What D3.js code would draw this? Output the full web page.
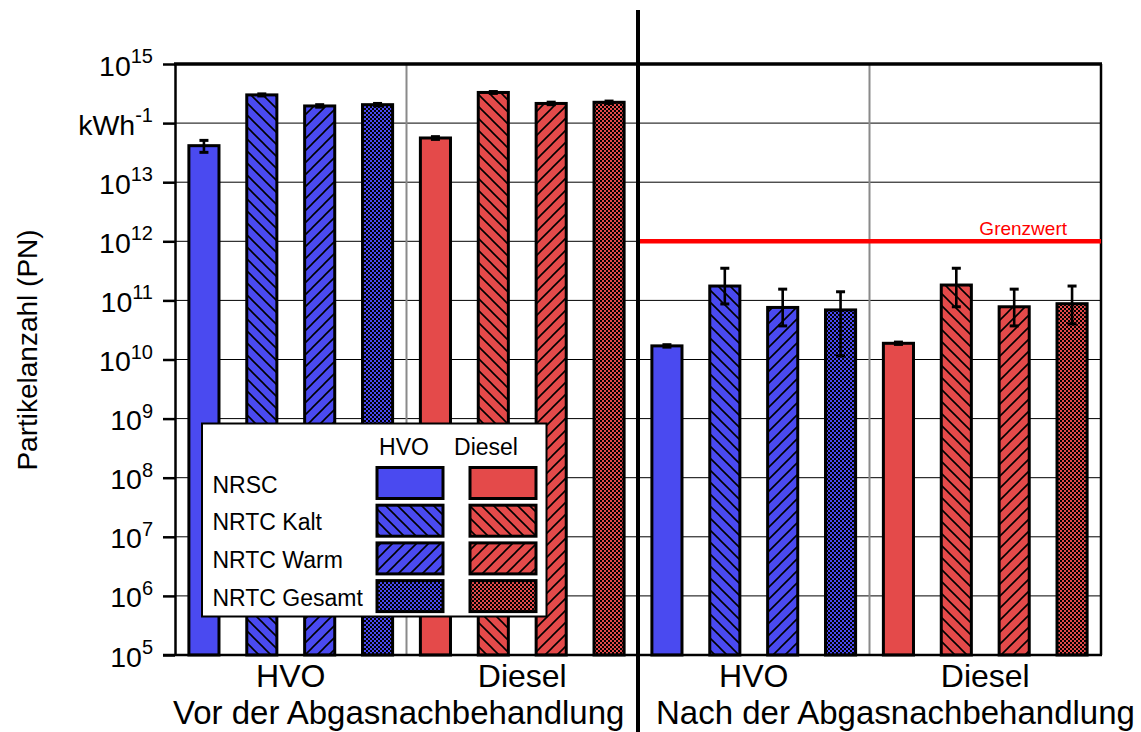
<!DOCTYPE html>
<html>
<head>
<meta charset="utf-8">
<script src="https://cdn.jsdelivr.net/npm/d3@7"></script>
<style>
  body { margin: 0; background: #fff; }
  svg { display: block; }
  text { font-family: Arial, "Liberation Sans", Helvetica, sans-serif; fill: #000; }
</style>
</head>
<body>
<svg id="chart" width="1141" height="732"></svg>
<script>
// ---- data -------------------------------------------------------------
const phases = ["Vor der Abgasnachbehandlung", "Nach der Abgasnachbehandlung"];
const fuels = ["HVO", "Diesel"];
const modes = ["NRSC", "NRTC Kalt", "NRTC Warm", "NRTC Gesamt"];

// particle number per kWh (mean, lower and upper error bound), order = modes
const vorHVO      = [4.15e13, 3.0e14, 1.95e14, 2.05e14];
const vorHVOLo    = [3.2e13, 2.88e14, 1.86e14, 1.96e14];
const vorHVOHi    = [5.1e13, 3.12e14, 2.05e14, 2.15e14];
const vorDiesel   = [5.6e13, 3.3e14, 2.15e14, 2.25e14];
const vorDieselLo = [5.3e13, 3.18e14, 2.05e14, 2.15e14];
const vorDieselHi = [5.9e13, 3.42e14, 2.26e14, 2.36e14];
const nachHVO      = [1.7e10, 1.75e11, 7.6e10, 6.9e10];
const nachHVOLo    = [1.62e10, 8.7e10, 3.7e10, 1.15e10];
const nachHVOHi    = [1.78e10, 3.5e11, 1.55e11, 1.4e11];
const nachDiesel   = [1.88e10, 1.82e11, 7.8e10, 8.8e10];
const nachDieselLo = [1.8e10, 7.8e10, 3.7e10, 4.0e10];
const nachDieselHi = [1.97e10, 3.5e11, 1.55e11, 1.75e11];

const limitValue = 1e12;
const limitLabel = "Grenzwert";

const yTicks    = [1e5, 1e6, 1e7, 1e8, 1e9, 1e10, 1e11, 1e12, 1e13, 1e14, 1e15];
const tickBase  = ["10", "10", "10", "10", "10", "10", "10", "10", "10", "kWh", "10"];
const tickExp   = ["5", "6", "7", "8", "9", "10", "11", "12", "13", "-1", "15"];
const yTitle = "Partikelanzahl (PN)";

const fuelColor = { HVO: "#4a4af0", Diesel: "#e44a4a" };

// ---- rows -------------------------------------------------------------
const seriesTable = [
  [phases[0], "HVO", vorHVO, vorHVOLo, vorHVOHi],
  [phases[0], "Diesel", vorDiesel, vorDieselLo, vorDieselHi],
  [phases[1], "HVO", nachHVO, nachHVOLo, nachHVOHi],
  [phases[1], "Diesel", nachDiesel, nachDieselLo, nachDieselHi]
];
const rows = [];
seriesTable.forEach(([phase, fuel, vals, lo, hi]) => {
  modes.forEach((mode, i) => rows.push({
    key: phase + "|" + fuel + "|" + mode, phase, fuel, mode, mi: i,
    value: vals[i], lo: lo[i], hi: hi[i]
  }));
});

// ---- layout -----------------------------------------------------------
const svg = d3.select("#chart");
const plot = { left: 175, right: 1101, top: 64, bottom: 655 };

const x = d3.scaleBand()
  .domain(rows.map(d => d.key))
  .range([plot.left, plot.right])
  .paddingInner(0.48)
  .paddingOuter(0.24);
const y = d3.scaleLog().domain([1e5, 1e15]).range([plot.bottom, plot.top]);
const step = x.step();

// ---- fill patterns ----------------------------------------------------
const defs = svg.append("defs");
function patternId(fuel, mi) { return "p-" + fuel + "-" + mi; }
fuels.forEach(fuel => {
  const c = fuelColor[fuel];
  // NRTC Kalt: "\" hatch
  let p = defs.append("pattern").attr("id", patternId(fuel, 1))
    .attr("patternUnits", "userSpaceOnUse").attr("width", 12).attr("height", 12);
  p.append("rect").attr("width", 12).attr("height", 12).attr("fill", c);
  p.append("path").attr("d", "M0,0L12,12M-3,9L3,15M9,-3L15,3")
    .attr("stroke", "#000").attr("stroke-width", 1.6);
  // NRTC Warm: "/" hatch
  p = defs.append("pattern").attr("id", patternId(fuel, 2))
    .attr("patternUnits", "userSpaceOnUse").attr("width", 12).attr("height", 12);
  p.append("rect").attr("width", 12).attr("height", 12).attr("fill", c);
  p.append("path").attr("d", "M0,12L12,0M-3,3L3,-3M9,15L15,9")
    .attr("stroke", "#000").attr("stroke-width", 1.6);
  // NRTC Gesamt: fine checker
  p = defs.append("pattern").attr("id", patternId(fuel, 3))
    .attr("patternUnits", "userSpaceOnUse").attr("width", 4).attr("height", 4);
  p.append("rect").attr("width", 4).attr("height", 4).attr("fill", c);
  p.append("rect").attr("width", 2).attr("height", 2).attr("fill", "#000");
  p.append("rect").attr("x", 2).attr("y", 2).attr("width", 2).attr("height", 2).attr("fill", "#000");
});
function fillFor(fuel, mi) {
  return mi === 0 ? fuelColor[fuel] : "url(#" + patternId(fuel, mi) + ")";
}

// ---- grid -------------------------------------------------------------
svg.append("g").selectAll("line")
  .data(yTicks.filter(t => t > 1e5 && t < 1e15))
  .join("line")
  .attr("x1", plot.left).attr("x2", plot.right)
  .attr("y1", d => y(d)).attr("y2", d => y(d))
  .attr("stroke", "#000").attr("stroke-width", 1);

// grey separators between fuel groups
const groupSep = [rows[4].key, rows[12].key].map(k => x(k) - step * 0.24);
svg.append("g").selectAll("line").data(groupSep).join("line")
  .attr("x1", d => d).attr("x2", d => d)
  .attr("y1", plot.top).attr("y2", plot.bottom)
  .attr("stroke", "#8a8a8a").attr("stroke-width", 2);

// ---- bars -------------------------------------------------------------
svg.append("g").selectAll("rect").data(rows).join("rect")
  .attr("x", d => x(d.key))
  .attr("y", d => y(d.value))
  .attr("width", x.bandwidth())
  .attr("height", d => y(1e5) - y(d.value))
  .attr("fill", d => fillFor(d.fuel, d.mi))
  .attr("stroke", "#000").attr("stroke-width", 3);

// ---- error bars -------------------------------------------------------
const eb = svg.append("g").attr("stroke", "#000").attr("stroke-width", 2.6);
const cx = d => x(d.key) + x.bandwidth() / 2;
eb.selectAll("line.v").data(rows).join("line").attr("class", "v")
  .attr("x1", cx).attr("x2", cx).attr("y1", d => y(d.lo)).attr("y2", d => y(d.hi));
eb.selectAll("line.t").data(rows).join("line").attr("class", "t")
  .attr("x1", d => cx(d) - 4.5).attr("x2", d => cx(d) + 4.5)
  .attr("y1", d => y(d.hi)).attr("y2", d => y(d.hi)).attr("stroke-width", 3);
eb.selectAll("line.b").data(rows).join("line").attr("class", "b")
  .attr("x1", d => cx(d) - 4.5).attr("x2", d => cx(d) + 4.5)
  .attr("y1", d => y(d.lo)).attr("y2", d => y(d.lo)).attr("stroke-width", 3);

// ---- frame & axes -----------------------------------------------------
const yAxis = d3.axisLeft(y).tickValues(yTicks).tickSize(12).tickSizeOuter(0).tickFormat("");
const gy = svg.append("g").attr("transform", `translate(${plot.left},0)`).call(yAxis);
gy.selectAll("path, line").attr("stroke", "#000").attr("stroke-width", 2.5);

svg.append("line").attr("x1", plot.left - 1).attr("x2", plot.right + 1)
  .attr("y1", plot.top).attr("y2", plot.top).attr("stroke", "#000").attr("stroke-width", 3.5);
svg.append("line").attr("x1", plot.left - 12).attr("x2", plot.right + 1)
  .attr("y1", plot.bottom).attr("y2", plot.bottom).attr("stroke", "#000").attr("stroke-width", 2.5);
svg.append("line").attr("x1", plot.right).attr("x2", plot.right)
  .attr("y1", plot.top).attr("y2", plot.bottom).attr("stroke", "#000").attr("stroke-width", 2.5);

// tick labels with superscripts
const tl = svg.append("g").selectAll("text").data(yTicks).join("text")
  .attr("x", 153).attr("y", d => y(d) + 11.5)
  .attr("text-anchor", "end");
tl.append("tspan").attr("font-size", 28.5).text((d, i) => tickBase[i]);
tl.append("tspan").attr("font-size", 20).attr("dy", -12.5).text((d, i) => tickExp[i]);

// y title
svg.append("text")
  .attr("transform", `translate(37,350) rotate(-90)`)
  .attr("text-anchor", "middle").attr("font-size", 28).text(yTitle);

// ---- category labels --------------------------------------------------
const groups = d3.groups(rows, d => d.phase, d => d.fuel);
groups.forEach(([phase, byFuel]) => {
  byFuel.forEach(([fuel, rs]) => {
    const gx = (x(rs[0].key) + x(rs[rs.length - 1].key) + x.bandwidth()) / 2;
    svg.append("text").attr("x", gx).attr("y", 687)
      .attr("text-anchor", "middle").attr("font-size", 32).text(fuel);
  });
});
const phaseStart = phases.map(ph => x(rows.find(r => r.phase === ph).key) - step * 0.24);
svg.append("text").attr("x", phaseStart[0] - 2).attr("y", 724)
  .attr("font-size", 33).text(phases[0]);
svg.append("text").attr("x", phaseStart[1] + 18).attr("y", 724)
  .attr("font-size", 33).text(phases[1]);

// ---- limit line -------------------------------------------------------
svg.append("line").attr("x1", phaseStart[1] + 2).attr("x2", plot.right)
  .attr("y1", y(limitValue)).attr("y2", y(limitValue))
  .attr("stroke", "#ff0000").attr("stroke-width", 4.5);
svg.append("text").attr("x", 1067).attr("y", y(limitValue) - 6)
  .attr("text-anchor", "end").attr("font-size", 19).style("fill", "#ff0000").text(limitLabel);

// panel divider
svg.append("line").attr("x1", phaseStart[1]).attr("x2", phaseStart[1])
  .attr("y1", 10).attr("y2", 732).attr("stroke", "#000").attr("stroke-width", 4);

// ---- legend -----------------------------------------------------------
const lg = svg.append("g");
lg.append("rect").attr("x", 202).attr("y", 423.5).attr("width", 344.5).attr("height", 193)
  .attr("fill", "#fff").attr("stroke", "#000").attr("stroke-width", 2);
const colX = { HVO: 377, Diesel: 470 };
const headX = { HVO: 404, Diesel: 486 };
fuels.forEach(f => {
  lg.append("text").attr("x", headX[f]).attr("y", 455).attr("text-anchor", "middle")
    .attr("font-size", 23).text(f);
});
modes.forEach((m, i) => {
  const ry = 467.5 + i * 37.7;
  lg.append("text").attr("x", 212.5).attr("y", ry + 25).attr("font-size", 23).text(m);
  fuels.forEach(f => {
    lg.append("rect").attr("x", colX[f]).attr("y", ry).attr("width", 66).attr("height", 31)
      .attr("fill", fillFor(f, i)).attr("stroke", "#000").attr("stroke-width", 3);
  });
});
</script>
</body>
</html>
